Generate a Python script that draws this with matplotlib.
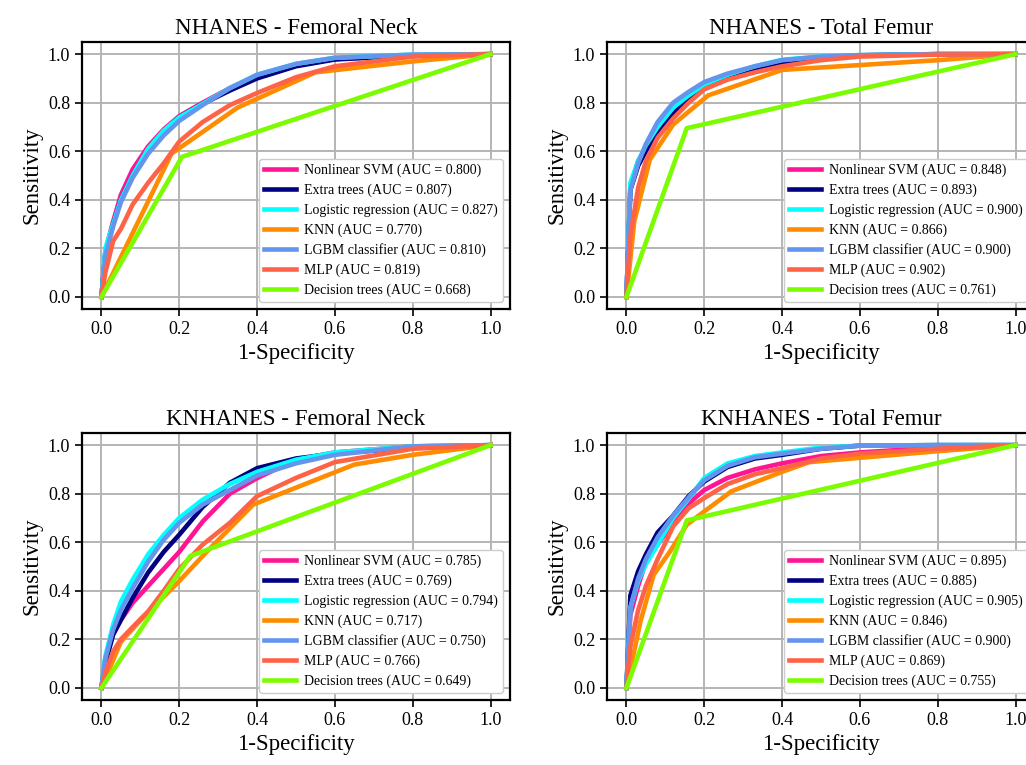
import numpy as np
import matplotlib
matplotlib.use('Agg')
import matplotlib.pyplot as plt

plt.rcParams['font.family'] = ['Liberation Serif', 'DejaVu Serif']

models = ['Nonlinear SVM', 'Extra trees', 'Logistic regression', 'KNN',
          'LGBM classifier', 'MLP', 'Decision trees']
colors = ['deeppink', 'navy', 'aqua', 'darkorange', 'cornflowerblue', 'tomato', 'lawngreen']

titles = ['NHANES - Femoral Neck', 'NHANES - Total Femur',
          'KNHANES - Femoral Neck', 'KNHANES - Total Femur']

# shared false positive rate grid for the smooth curves
grid_fpr = [0, 0.01, 0.03, 0.05, 0.08, 0.12, 0.16, 0.2, 0.26, 0.33, 0.4, 0.5, 0.6, 0.8, 1.0]

# NHANES - Femoral Neck
nh_fn_auc = [0.800, 0.807, 0.827, 0.770, 0.810, 0.819, 0.668]
nh_fn_svm = [0, 0.19, 0.31, 0.42, 0.525, 0.62, 0.69, 0.745, 0.80, 0.86, 0.91, 0.955, 0.98, 0.995, 1]
nh_fn_et = [0, 0.18, 0.30, 0.40, 0.50, 0.605, 0.68, 0.74, 0.795, 0.85, 0.90, 0.95, 0.978, 0.995, 1]
nh_fn_lr = [0, 0.20, 0.30, 0.40, 0.50, 0.61, 0.685, 0.74, 0.795, 0.86, 0.915, 0.96, 0.985, 0.998, 1]
nh_fn_lgbm = [0, 0.17, 0.29, 0.39, 0.49, 0.59, 0.665, 0.725, 0.79, 0.86, 0.915, 0.96, 0.985, 0.998, 1]
nh_fn_mlp = [0, 0.10, 0.23, 0.28, 0.38, 0.47, 0.55, 0.64, 0.72, 0.79, 0.84, 0.905, 0.95, 0.99, 1]
nh_fn_knn_fpr = [0, 0.18, 0.35, 0.55, 0.8, 1.0]
nh_fn_knn_tpr = [0, 0.59, 0.78, 0.925, 0.97, 1.0]
nh_fn_dt_fpr = [0, 0.207, 1.0]
nh_fn_dt_tpr = [0, 0.577, 1.0]

# NHANES - Total Femur
nh_tf_auc = [0.848, 0.893, 0.900, 0.866, 0.900, 0.902, 0.761]
nh_tf_svm = [0, 0.45, 0.56, 0.61, 0.68, 0.755, 0.82, 0.87, 0.905, 0.935, 0.965, 0.985, 0.995, 1, 1]
nh_tf_et = [0, 0.44, 0.54, 0.60, 0.67, 0.75, 0.82, 0.867, 0.905, 0.935, 0.96, 0.985, 0.995, 1, 1]
nh_tf_lr = [0, 0.47, 0.56, 0.625, 0.70, 0.78, 0.83, 0.874, 0.915, 0.95, 0.977, 0.99, 0.996, 1, 1]
nh_tf_lgbm = [0, 0.44, 0.55, 0.63, 0.72, 0.80, 0.845, 0.885, 0.92, 0.95, 0.975, 0.99, 0.996, 1, 1]
nh_tf_mlp = [0, 0.25, 0.45, 0.56, 0.655, 0.735, 0.80, 0.855, 0.895, 0.925, 0.95, 0.975, 0.99, 0.998, 1]
nh_tf_knn_fpr = [0, 0.02, 0.06, 0.12, 0.21, 0.4, 0.8, 1.0]
nh_tf_knn_tpr = [0, 0.31, 0.565, 0.71, 0.83, 0.935, 0.975, 1.0]
nh_tf_dt_fpr = [0, 0.155, 1.0]
nh_tf_dt_tpr = [0, 0.695, 1.0]

# KNHANES - Femoral Neck
kn_fn_auc = [0.785, 0.769, 0.794, 0.717, 0.750, 0.766, 0.649]
kn_fn_svm = [0, 0.12, 0.22, 0.28, 0.35, 0.42, 0.49, 0.56, 0.685, 0.80, 0.864, 0.94, 0.97, 0.995, 1]
kn_fn_et = [0, 0.10, 0.22, 0.28, 0.37, 0.475, 0.56, 0.631, 0.745, 0.845, 0.905, 0.945, 0.965, 0.99, 1]
kn_fn_lr = [0, 0.13, 0.26, 0.355, 0.445, 0.55, 0.63, 0.70, 0.775, 0.84, 0.89, 0.94, 0.97, 0.995, 1]
kn_fn_lgbm = [0, 0.12, 0.24, 0.32, 0.41, 0.52, 0.61, 0.68, 0.755, 0.815, 0.875, 0.925, 0.96, 0.995, 1]
kn_fn_mlp = [0, 0.06, 0.15, 0.20, 0.25, 0.315, 0.40, 0.49, 0.59, 0.68, 0.79, 0.865, 0.93, 0.985, 1]
kn_fn_knn_fpr = [0, 0.05, 0.11, 0.2, 0.27, 0.39, 0.65, 0.8, 1.0]
kn_fn_knn_tpr = [0, 0.19, 0.295, 0.44, 0.56, 0.755, 0.92, 0.96, 1.0]
kn_fn_dt_fpr = [0, 0.228, 1.0]
kn_fn_dt_tpr = [0, 0.543, 1.0]

# KNHANES - Total Femur
kn_tf_auc = [0.895, 0.885, 0.905, 0.846, 0.900, 0.869, 0.755]
kn_tf_svm = [0, 0.30, 0.42, 0.52, 0.59, 0.68, 0.76, 0.815, 0.865, 0.90, 0.925, 0.955, 0.97, 0.99, 1]
kn_tf_et = [0, 0.38, 0.48, 0.55, 0.64, 0.71, 0.79, 0.85, 0.91, 0.945, 0.96, 0.985, 0.998, 1, 1]
kn_tf_lr = [0, 0.33, 0.44, 0.51, 0.59, 0.70, 0.78, 0.865, 0.925, 0.955, 0.97, 0.99, 0.998, 1, 1]
kn_tf_lgbm = [0, 0.33, 0.45, 0.53, 0.62, 0.71, 0.785, 0.855, 0.915, 0.95, 0.965, 0.985, 0.998, 1, 1]
kn_tf_mlp = [0, 0.17, 0.32, 0.42, 0.53, 0.665, 0.74, 0.782, 0.84, 0.88, 0.905, 0.945, 0.965, 0.985, 1]
kn_tf_knn_fpr = [0, 0.036, 0.07, 0.112, 0.155, 0.2, 0.27, 0.4, 0.47, 0.8, 1.0]
kn_tf_knn_tpr = [0, 0.274, 0.466, 0.562, 0.672, 0.727, 0.81, 0.89, 0.93, 0.975, 1.0]
kn_tf_dt_fpr = [0, 0.155, 1.0]
kn_tf_dt_tpr = [0, 0.69, 1.0]


def panel_curves(svm, et, lr, knn_fpr, knn_tpr, lgbm, mlp, dt_fpr, dt_tpr):
    return [(grid_fpr, svm), (grid_fpr, et), (grid_fpr, lr), (knn_fpr, knn_tpr),
            (grid_fpr, lgbm), (grid_fpr, mlp), (dt_fpr, dt_tpr)]


panels = [
    (nh_fn_auc, panel_curves(nh_fn_svm, nh_fn_et, nh_fn_lr, nh_fn_knn_fpr, nh_fn_knn_tpr,
                             nh_fn_lgbm, nh_fn_mlp, nh_fn_dt_fpr, nh_fn_dt_tpr)),
    (nh_tf_auc, panel_curves(nh_tf_svm, nh_tf_et, nh_tf_lr, nh_tf_knn_fpr, nh_tf_knn_tpr,
                             nh_tf_lgbm, nh_tf_mlp, nh_tf_dt_fpr, nh_tf_dt_tpr)),
    (kn_fn_auc, panel_curves(kn_fn_svm, kn_fn_et, kn_fn_lr, kn_fn_knn_fpr, kn_fn_knn_tpr,
                             kn_fn_lgbm, kn_fn_mlp, kn_fn_dt_fpr, kn_fn_dt_tpr)),
    (kn_tf_auc, panel_curves(kn_tf_svm, kn_tf_et, kn_tf_lr, kn_tf_knn_fpr, kn_tf_knn_tpr,
                             kn_tf_lgbm, kn_tf_mlp, kn_tf_dt_fpr, kn_tf_dt_tpr)),
]

W, H = 1026, 765
fig = plt.figure(figsize=(W / 100, H / 100), dpi=100)

# axes boxes in pixels: left, top, width, height (right column runs past the edge)
boxes = [(82, 42, 428, 267), (607, 42, 428, 267),
         (82, 433, 428, 267), (607, 433, 428, 267)]

for (left, top, w, h), title, (aucs, curves) in zip(boxes, titles, panels):
    ax = fig.add_axes([left / W, 1 - (top + h) / H, w / W, h / H])
    for name, col, auc, (fx, ty) in zip(models, colors, aucs, curves):
        ax.plot(fx, ty, color=col, lw=3.3, label=f'{name} (AUC = {auc:.3f})')
    ax.set_xlim(-0.05, 1.05)
    ax.set_ylim(-0.05, 1.05)
    ax.set_xticks(np.arange(0, 1.01, 0.2))
    ax.set_yticks(np.arange(0, 1.01, 0.2))
    ax.xaxis.set_major_formatter(matplotlib.ticker.FormatStrFormatter('%.1f'))
    ax.yaxis.set_major_formatter(matplotlib.ticker.FormatStrFormatter('%.1f'))
    ax.grid(True, color='#b4b4b4', lw=1.4)
    ax.set_axisbelow(True)
    ax.tick_params(labelsize=13, length=5, width=1.2)
    for sp in ax.spines.values():
        sp.set_linewidth(1.6)
    ax.set_title(title, fontsize=16.5)
    ax.set_xlabel('1-Specificity', fontsize=16.5)
    ax.set_ylabel('Sensitivity', fontsize=16.5)
    ax.legend(loc='lower right', fontsize=10, framealpha=1, labelspacing=0.46,
              handlelength=2.3, handletextpad=0.6, borderpad=0.35)

fig.savefig('out.png', dpi=100)
